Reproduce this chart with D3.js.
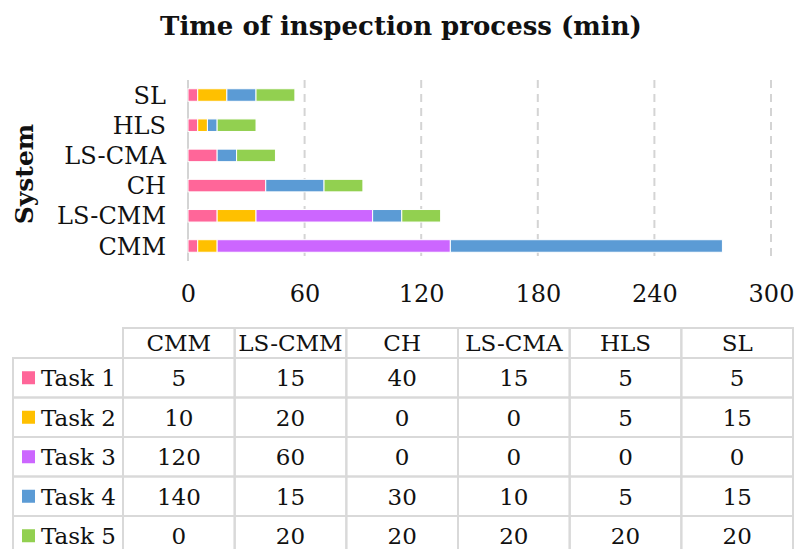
<!DOCTYPE html>
<html>
<head>
<meta charset="utf-8">
<script src="https://cdn.jsdelivr.net/npm/d3@7"></script>
<style>
  html, body { margin: 0; padding: 0; background: #fff; }
  svg { display: block; }
  text { font-family: "DejaVu Serif", serif; fill: #111; }
</style>
</head>
<body>
<svg id="chart" width="794" height="549"></svg>
<script>
// ---- data ----
const systems = ["CMM", "LS-CMM", "CH", "LS-CMA", "HLS", "SL"];
const tasks = ["Task 1", "Task 2", "Task 3", "Task 4", "Task 5"];
const task1 = [5, 15, 40, 15, 5, 5];
const task2 = [10, 20, 0, 0, 5, 15];
const task3 = [120, 60, 0, 0, 0, 0];
const task4 = [140, 15, 30, 10, 5, 15];
const task5 = [0, 20, 20, 20, 20, 20];
const taskColors = ["#FF6699", "#FFC000", "#CC66FF", "#5B9BD5", "#92D050"];
const xTicks = [0, 60, 120, 180, 240, 300];
const title = "Time of inspection process (min)";
const yTitle = "System";

const seriesValues = [task1, task2, task3, task4, task5];
const rows = systems.map((s, i) => {
  const r = { system: s };
  tasks.forEach((t, k) => { r[t] = seriesValues[k][i]; });
  return r;
});

const svg = d3.select("#chart");

// ---- scales ----
const x = d3.scaleLinear().domain([0, 300]).range([188, 771]);
const y = d3.scaleBand().domain(systems).range([261, 80]).paddingInner(0.585).paddingOuter(0.29);
const color = d3.scaleOrdinal().domain(tasks).range(taskColors);

// title
svg.append("text")
  .attr("x", 401).attr("y", 35)
  .attr("text-anchor", "middle")
  .style("font-weight", "bold").style("font-size", "26px")
  .text(title);

// y title
svg.append("text")
  .attr("transform", "translate(33,174) rotate(-90)")
  .attr("text-anchor", "middle")
  .style("font-weight", "bold").style("font-size", "25px")
  .text(yTitle);

// gridlines
svg.append("g").selectAll("line")
  .data(xTicks.filter(d => d > 0))
  .join("line")
  .attr("x1", d => x(d)).attr("x2", d => x(d))
  .attr("y1", 80).attr("y2", 261)
  .attr("stroke", "#d4d4d4").attr("stroke-width", 2)
  .attr("stroke-dasharray", "8,6");

// zero axis line
svg.append("line")
  .attr("x1", x(0)).attr("x2", x(0)).attr("y1", 80).attr("y2", 261)
  .attr("stroke", "#d4d4d4").attr("stroke-width", 2);

// x axis tick labels via d3 axis
const xAxis = svg.append("g")
  .attr("transform", "translate(0,276)")
  .call(d3.axisBottom(x).tickValues(xTicks).tickSize(0).tickPadding(0));
xAxis.select(".domain").remove();
xAxis.selectAll("text")
  .attr("dy", null).attr("y", 26)
  .style("font-family", "DejaVu Serif, serif").style("font-size", "24px").attr("fill", "#111");

// y axis labels
const yAxis = svg.append("g")
  .attr("transform", "translate(166,0)")
  .call(d3.axisLeft(y).tickSize(0).tickPadding(0));
yAxis.select(".domain").remove();
yAxis.selectAll("text")
  .attr("dy", "0.36em")
  .style("font-family", "DejaVu Serif, serif").style("font-size", "24px").attr("fill", "#111");

// stacked bars
const stacked = d3.stack().keys(tasks)(rows);
svg.append("g").selectAll("g")
  .data(stacked)
  .join("g")
  .attr("fill", d => color(d.key))
  .selectAll("rect")
  .data(d => d.filter(p => p[1] - p[0] > 0))
  .join("rect")
  .attr("x", d => x(d[0]))
  .attr("width", d => x(d[1]) - x(d[0]))
  .attr("y", d => y(d.data.system))
  .attr("height", y.bandwidth())
  .attr("stroke", "#fff").attr("stroke-width", 1);

// ---- data table ----
const colX = d3.scaleBand().domain(systems).range([123, 793]);
const legendLeft = 13;
const headerTop = 328, headerBottom = 358, rowH = 39.5;
const rowY = i => headerBottom + i * rowH;
const gridColor = "#d9d9d9";
const table = svg.append("g");

// header cells
table.selectAll("rect.hdr")
  .data(systems)
  .join("rect")
  .attr("class", "hdr")
  .attr("x", d => colX(d)).attr("y", headerTop)
  .attr("width", colX.bandwidth()).attr("height", headerBottom - headerTop)
  .attr("fill", "none").attr("stroke", gridColor).attr("stroke-width", 2);

table.selectAll("text.hdr")
  .data(systems)
  .join("text")
  .attr("class", "hdr")
  .attr("x", d => colX(d) + colX.bandwidth() / 2)
  .attr("y", headerTop + (headerBottom - headerTop) / 2)
  .attr("dy", "0.36em")
  .attr("text-anchor", "middle")
  .style("font-size", "23px")
  .text(d => d);

// body rows
tasks.forEach((t, k) => {
  const top = rowY(k);
  // legend cell
  table.append("rect")
    .attr("x", legendLeft).attr("y", top)
    .attr("width", 123 - legendLeft).attr("height", rowH)
    .attr("fill", "none").attr("stroke", gridColor).attr("stroke-width", 2);
  table.append("rect")
    .attr("x", 22).attr("y", top + rowH / 2 - 6.5)
    .attr("width", 13).attr("height", 13)
    .attr("fill", color(t));
  table.append("text")
    .attr("x", 41).attr("y", top + rowH / 2)
    .attr("dy", "0.36em")
    .style("font-size", "23px")
    .text(t);
  systems.forEach((s, i) => {
    table.append("rect")
      .attr("x", colX(s)).attr("y", top)
      .attr("width", colX.bandwidth()).attr("height", rowH)
      .attr("fill", "none").attr("stroke", gridColor).attr("stroke-width", 2);
    table.append("text")
      .attr("x", colX(s) + colX.bandwidth() / 2)
      .attr("y", top + rowH / 2)
      .attr("dy", "0.36em")
      .attr("text-anchor", "middle")
      .style("font-size", "23px")
      .text(seriesValues[k][i]);
  });
});
</script>
</body>
</html>
